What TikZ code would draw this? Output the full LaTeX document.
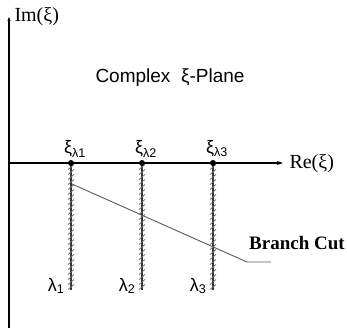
\documentclass[tikz,border=0pt]{standalone}
\usepackage{fontspec}
\setmainfont{Liberation Serif}
\setsansfont{Liberation Sans}
\usetikzlibrary{arrows.meta, positioning}
\tikzset{
  every picture/.style={line width=1pt},
  axis/.style={line width=1.8pt, draw=black},
  axislabel/.style={font=\fontsize{20}{20}\selectfont, inner sep=0pt},
  pole/.style={circle, fill=black, inner sep=0pt, minimum size=6pt},
  cutline/.style={line width=1.4pt, draw=black!80},
  hatch/.style={line width=0.8pt, draw=black!55},
  branch/.style={line width=0.9pt, draw=black!65},
  note/.style={font=\sffamily\fontsize{18}{18}\selectfont, inner sep=1pt},
  title/.style={font=\sffamily\fontsize{19}{19}\selectfont, inner sep=0pt},
  cutlabel/.style={font=\bfseries\fontsize{19}{19}\selectfont, inner sep=0pt},
}

\begin{document}
\begin{tikzpicture}[x=1pt, y=-1pt]
  \useasboundingbox (0,0) rectangle (347,330);
  \coordinate (imbot) at (9,328);
  \coordinate (imtop) at (9,17);
  \coordinate (o) at (9,163);
  \coordinate (retip) at (283,163);
  \draw[axis, -{Stealth[length=4pt, width=3pt]}] (imbot) -- (imtop);
  \draw[axis, -{Stealth[length=6pt, width=4pt]}] (o) -- (retip);
  \node[axislabel, anchor=west] (im) at (14,17) {Im(ξ)};
  \node[axislabel, anchor=west] (re) at (289,164) {Re(ξ)};
  \node[title] (plane) at (170,78) {Complex\ \ ξ-Plane};
  \foreach \n/\x in {1/71, 2/142, 3/213}
    { \coordinate (e\n) at (\x,290);
      \draw[cutline] (\x,163) -- (e\n);
      \foreach \t in {4,9,...,124}
        \draw[hatch] (\x-3,163+\t+2.5) -- ++(6,-5);
      \node[pole] (p\n) at (\x,163) {};
      \node[note, above=1pt of p\n, xshift=4pt] (xi\n) {ξ\textsubscript{λ\n}};
      \node[note, anchor=east] (lam\n) at (\x-5,286) {λ\textsubscript{\n}}; }
  \coordinate (b0) at (72,184);
  \coordinate (bk) at (247,262);
  \coordinate (bend) at (271,262);
  \draw[branch] (b0) -- (bk) -- (bend);
  \node[cutlabel] (cut) at (297,243) {Branch Cut};
\end{tikzpicture}
\end{document}
